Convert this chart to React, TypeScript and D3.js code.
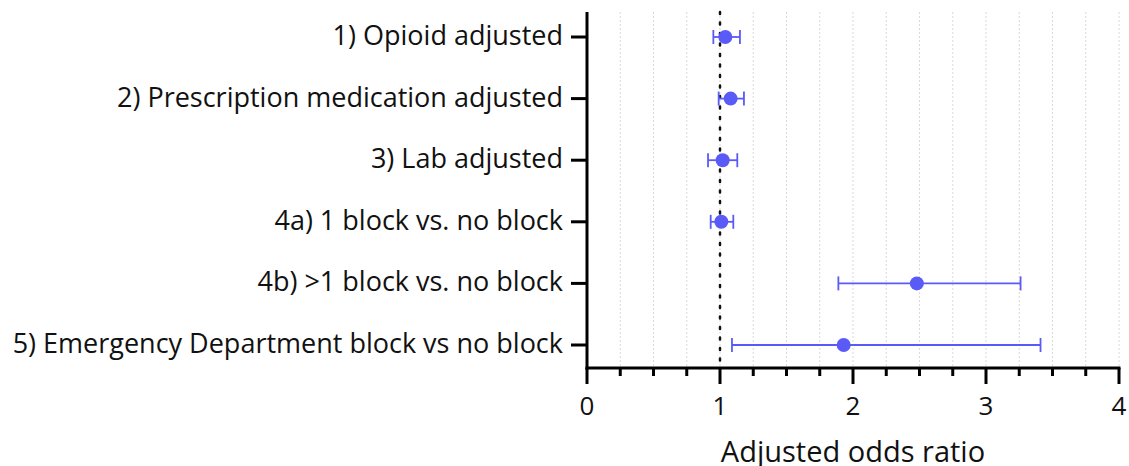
import React from "react";
import * as d3 from "d3";

const categories = [
  "1) Opioid adjusted",
  "2) Prescription medication adjusted",
  "3) Lab adjusted",
  "4a) 1 block vs. no block",
  "4b) >1 block vs. no block",
  "5) Emergency Department block vs no block",
];
const oddsRatio = [1.04, 1.08, 1.02, 1.01, 2.48, 1.93];
const ciLower = [0.95, 0.99, 0.91, 0.93, 1.89, 1.09];
const ciUpper = [1.15, 1.18, 1.13, 1.10, 3.26, 3.41];
const xTicks = [0, 1, 2, 3, 4];
const xTitle = "Adjusted odds ratio";

const W = 1129;
const H = 466;
const left = 587;
const right = 1119;
const top = 12;
const bottom = 368;
const color = "#5a5af7";
const font = "'Open Sans', sans-serif";

export default function App() {
  const x = d3.scaleLinear().domain([0, 4]).range([left, right]);
  const y = d3
    .scalePoint<string>()
    .domain(categories)
    .range([37, 345]);
  const minor = d3.range(0, 4.0001, 0.25);
  return (
    <svg
      width={W}
      height={H}
      style={{ position: "absolute", left: 0, top: 0 }}
      fontFamily={font}
    >
      {minor
        .filter((v) => v > 0)
        .map((v) => (
          <line
            key={"g" + v}
            x1={x(v)}
            x2={x(v)}
            y1={top}
            y2={bottom}
            stroke="#d9d9d9"
            strokeWidth={1}
            strokeDasharray="2,2"
          />
        ))}
      <line
        x1={x(1)}
        x2={x(1)}
        y1={top}
        y2={bottom}
        stroke="#111"
        strokeWidth={2.5}
        strokeDasharray="2,8.5"
        strokeLinecap="round"
      />
      {categories.map((c, i) => {
        const yy = y(c)!;
        return (
          <g key={c}>
            <line x1={x(ciLower[i])} x2={x(ciUpper[i])} y1={yy} y2={yy} stroke={color} strokeWidth={1.8} />
            <line x1={x(ciLower[i])} x2={x(ciLower[i])} y1={yy - 7} y2={yy + 7} stroke={color} strokeWidth={1.8} />
            <line x1={x(ciUpper[i])} x2={x(ciUpper[i])} y1={yy - 7} y2={yy + 7} stroke={color} strokeWidth={1.8} />
            <circle cx={x(oddsRatio[i])} cy={yy} r={7} fill={color} />
            <line x1={left - 16} x2={left} y1={yy} y2={yy} stroke="#000" strokeWidth={3} />
            <text x={left - 24} y={yy + 8} textAnchor="end" fontSize={27} fill="#111">
              {c}
            </text>
          </g>
        );
      })}
      <line x1={left} x2={left} y1={top} y2={bottom + 1.5} stroke="#000" strokeWidth={3} />
      <line x1={left - 1.5} x2={right + 1.5} y1={bottom} y2={bottom} stroke="#000" strokeWidth={3} />
      {minor.map((v) => {
        const major = Number.isInteger(v);
        return (
          <line
            key={"t" + v}
            x1={x(v)}
            x2={x(v)}
            y1={bottom}
            y2={bottom + (major ? 16 : 8)}
            stroke="#000"
            strokeWidth={3}
          />
        );
      })}
      {xTicks.map((v) => (
        <text key={"l" + v} x={x(v)} y={415} textAnchor="middle" fontSize={26} fill="#111">
          {v}
        </text>
      ))}
      <text x={(left + right) / 2} y={462} textAnchor="middle" fontSize={29} fill="#111">
        {xTitle}
      </text>
    </svg>
  );
}
